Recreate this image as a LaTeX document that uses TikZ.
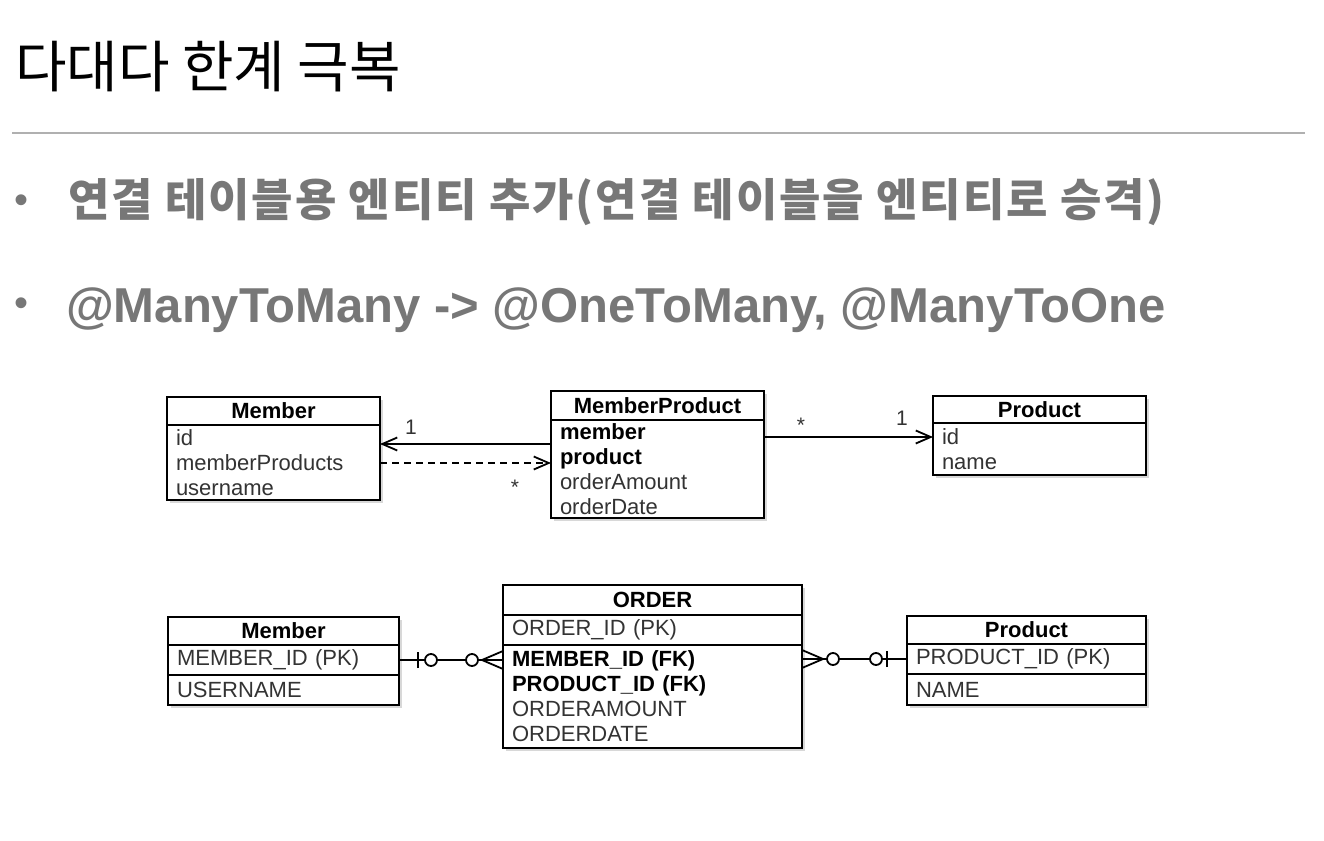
\documentclass[tikz,border=0pt]{standalone}
\usepackage{fontspec}
\setmainfont{Liberation Sans}
\newfontfamily\krfont{Noto Sans CJK KR}
\newfontfamily\krwide[LetterSpace=4.3]{Noto Sans CJK KR}
\usepackage{xcolor}
\usepackage{tikz}
\usetikzlibrary{arrows.meta,calc,positioning,shadows}
\definecolor{rule}{HTML}{B0B0B0}
\definecolor{bullet}{HTML}{777777}
\definecolor{attr}{HTML}{333333}
\tikzset{
  title/.style={anchor=base west, inner sep=0pt, font=\krfont\fontsize{56}{60}\selectfont},
  point/.style={anchor=base west, inner sep=0pt, text=bullet},
  dot/.style={anchor=base, inner sep=0pt, text=bullet, font=\fontsize{40}{40}\selectfont},
  box/.style={draw, line width=2pt, fill=white, inner sep=0pt, outer sep=0pt,
    drop shadow={shadow xshift=2.5pt, shadow yshift=-2.5pt, opacity=0.3}},
  clshead/.style={box, anchor=north west, font=\bfseries\fontsize{22}{25}\selectfont},
  clsbody/.style={box, anchor=north, inner xsep=9pt, align=left, text=attr,
    font=\fontsize{22}{25}\selectfont},
  umlline/.style={line width=1.8pt, -{Straight Barb[length=15pt,width=13pt,line width=1.8pt]}},
  umldash/.style={umlline, dash pattern=on 7pt off 5pt},
  mult/.style={text=attr, inner sep=1pt, font=\fontsize{21}{25}\selectfont},
  rel/.style={line width=1.8pt},
  hole/.style={rel, fill=white}
}

\begin{document}
\begin{tikzpicture}[x=1pt,y=1pt]
  \useasboundingbox[fill=white] (0,0) rectangle (1324,-840);

  % slide heading
  \node[title] (head) at (15,-88) {다대다 한계 극복};
  \draw[rule, line width=1.4pt] (12,-133) -- (1305,-133);

  \node[dot] (d1) at (22,-213) {\textbullet};
  \node[point, font=\krwide\bfseries\fontsize{45}{48}\selectfont] (p1) at (68,-216)
    {연결 테이블용 엔티티 추가(연결 테이블을 엔티티로 승격)};
  \node[dot] (d2) at (22,-316) {\textbullet};
  \node[point, font=\bfseries\fontsize{49}{52}\selectfont] (p2) at (66,-322)
    {@ManyToMany -> @OneToMany, @ManyToOne};

  % object model
  \node[clshead, minimum width=213pt, minimum height=28pt] (umh) at (167,-397) {Member};
  \node[clsbody, text width=195pt, minimum height=75pt, below=0pt of umh] (umb)
    {id\\memberProducts\\username};

  \node[clshead, minimum width=213pt, minimum height=29pt] (mph) at (551,-391) {MemberProduct};
  \node[clsbody, text width=195pt, minimum height=98pt, below=0pt of mph] (mpb)
    {\textcolor{black}{\bfseries member}\\\textcolor{black}{\bfseries product}\\orderAmount\\orderDate};

  \node[clshead, minimum width=213pt, minimum height=27pt] (uph) at (933,-396) {Product};
  \node[clsbody, text width=195pt, minimum height=52pt, below=0pt of uph] (upb)
    {id\\name};

  \draw[umlline] ([yshift=-24pt]mpb.north west) coordinate (a1) -- (a1 -| umb.east);
  \draw[umldash] ([yshift=-38pt]umb.north east) coordinate (a2) -- (a2 -| mpb.west);
  \draw[umlline] ([yshift=-17pt]mpb.north east) coordinate (a3) -- (a3 -| upb.west);
  \node[mult] (m1) at (411,-427) {1};
  \node[mult] (m2) at (515,-487) {*};
  \node[mult] (m3) at (801,-425) {*};
  \node[mult] (m4) at (902,-418) {1};

  % table model
  \node[clshead, minimum width=231pt, minimum height=28pt] (emh) at (168,-617) {Member};
  \node[clsbody, text width=213pt, minimum height=30pt, below=0pt of emh] (emk) {MEMBER\_ID (PK)};
  \node[clsbody, text width=213pt, minimum height=30pt, below=0pt of emk] (emr) {USERNAME};

  \node[clshead, minimum width=299pt, minimum height=30pt] (eoh) at (503,-585) {ORDER};
  \node[clsbody, text width=281pt, minimum height=30pt, below=0pt of eoh] (eok) {ORDER\_ID (PK)};
  \node[clsbody, text width=281pt, minimum height=103pt, below=0pt of eok] (eob)
    {\textcolor{black}{\bfseries MEMBER\_ID (FK)}\\\textcolor{black}{\bfseries PRODUCT\_ID (FK)}\\ORDERAMOUNT\\ORDERDATE};

  \node[clshead, minimum width=239pt, minimum height=28pt] (eph) at (907,-616) {Product};
  \node[clsbody, text width=221pt, minimum height=30pt, below=0pt of eph] (epk) {PRODUCT\_ID (PK)};
  \node[clsbody, text width=221pt, minimum height=31pt, below=0pt of epk] (epr) {NAME};

  % member -- order : zero or one to zero or many
  \draw[rel] (emk.east) coordinate (c1) -- (emk.east -| eob.west) coordinate (c2);
  \draw[rel] ($(c1)+(19,-8)$) -- ($(c1)+(19,8)$);
  \draw[hole] ($(c1)+(32,0)$) circle (6);
  \draw[hole] ($(c2)+(-31,0)$) circle (6);
  \draw[rel] ($(c2)+(0,9)$) -- ($(c2)+(-21,0)$) -- ($(c2)+(0,-9)$);

  % order -- product
  \draw[rel] (epk.west) coordinate (c4) -- (epk.west -| eob.east) coordinate (c3);
  \draw[rel] ($(c3)+(0,9)$) -- ($(c3)+(21,0)$) -- ($(c3)+(0,-9)$);
  \draw[hole] ($(c3)+(31,0)$) circle (6);
  \draw[hole] ($(c4)+(-31,0)$) circle (6);
  \draw[rel] ($(c4)+(-20,-8)$) -- ($(c4)+(-20,8)$);
\end{tikzpicture}
\end{document}
